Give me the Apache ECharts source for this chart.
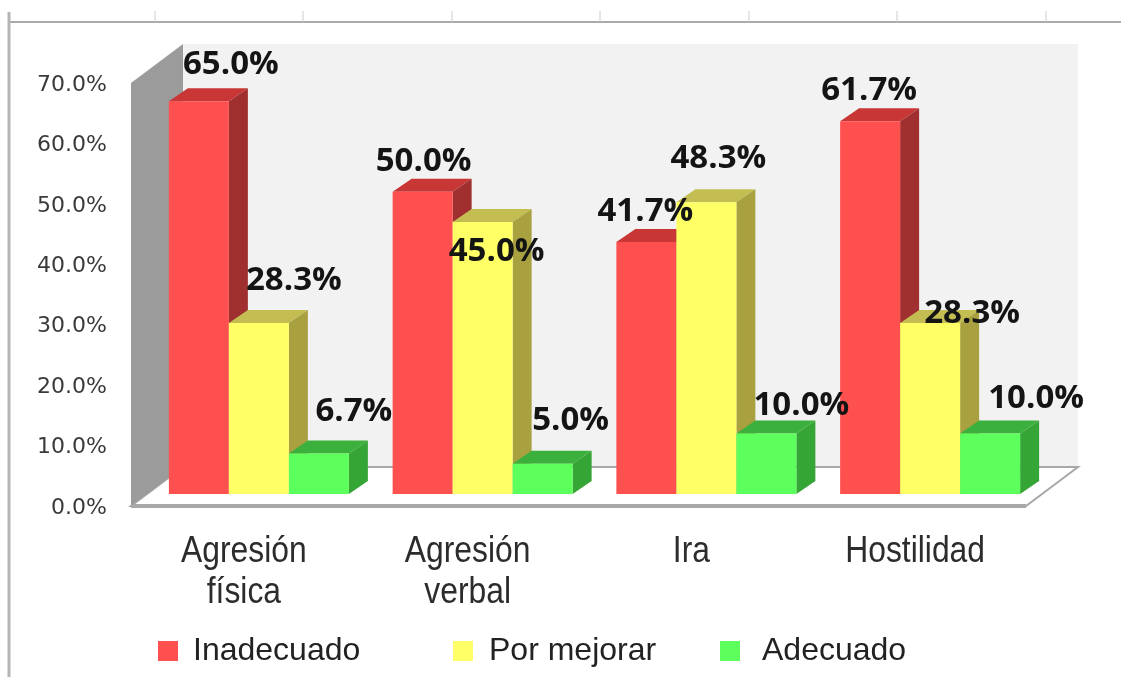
<!DOCTYPE html>
<html>
<head>
<meta charset="utf-8">
<style>
  html, body { margin: 0; padding: 0; background: #fff; }
  #chart { width: 1121px; height: 677px; }
</style>
<script src="https://cdn.jsdelivr.net/npm/echarts@6/dist/echarts.min.js"></script>
</head>
<body>
<div id="chart"></div>
<script>
const categories = ["Agresión\nfísica", "Agresión\nverbal", "Ira", "Hostilidad"];
const yTicksMax = 70;
const inadecuado = [65.0, 50.0, 41.7, 61.7];
const porMejorar = [28.3, 45.0, 48.3, 28.3];
const adecuado = [6.7, 5.0, 10.0, 10.0];

// how far each value label sits from the top centre of its bar
const offsetsRed = [[32, -39], [1, -32], [-1, -32], [-1, -33]];
const offsetsYellow = [[35, -44], [14, 28], [12, -46], [42, -11]];
const offsetsGreen = [[35, -44], [28, -45], [35, -30], [46, -37]];

const barWidth = 60;
const depth = [19, -13];     // bar depth
const wallDepth = [52, -39]; // wall depth
const barShift = [16, -12];  // bars stand a bit back from the floor edge

const chart = echarts.init(document.getElementById("chart"));

function poly(points, fill) {
  return { type: "polygon", shape: { points }, style: { fill } };
}

// 3d column: front face, top face, side face
function barSeries(name, values, slot, front, top, side) {
  return {
    name,
    type: "custom",
    coordinateSystem: "cartesian2d",
    itemStyle: { color: front },
    z: 3,
    data: values.map((v, i) => [i, v]),
    renderItem(params, api) {
      const p = api.coord([api.value(0), api.value(1)]);
      const base = api.coord([api.value(0), 0]);
      const x0 = p[0] + barShift[0] + (slot - 1) * barWidth - barWidth / 2;
      const x1 = x0 + barWidth;
      const y0 = p[1] + barShift[1];
      const y1 = base[1] + barShift[1];
      const dx = depth[0], dy = depth[1];
      return {
        type: "group",
        children: [
          poly([[x0, y0], [x0 + dx, y0 + dy], [x1 + dx, y0 + dy], [x1, y0]], top),
          poly([[x1, y0], [x1 + dx, y0 + dy], [x1 + dx, y1 + dy], [x1, y1]], side),
          poly([[x0, y0], [x1, y0], [x1, y1], [x0, y1]], front)
        ]
      };
    }
  };
}

function labelSeries(values, slot, offsets) {
  return {
    type: "custom",
    coordinateSystem: "cartesian2d",
    z: 10,
    silent: true,
    data: values.map((v, i) => [i, v]),
    renderItem(params, api) {
      const i = api.value(0);
      const p = api.coord([i, api.value(1)]);
      return {
        type: "text",
        x: p[0] + barShift[0] + (slot - 1) * barWidth + offsets[i][0],
        y: p[1] + barShift[1] + offsets[i][1] + 2,
        style: {
          text: api.value(1).toFixed(1) + "%",
          fill: "#141414",
          font: 'bold 33px "Open Sans"',
          align: "center",
          verticalAlign: "middle"
        }
      };
    }
  };
}

// category names are squeezed sideways in the picture, so they are drawn here
const categorySeries = {
  type: "custom",
  coordinateSystem: "cartesian2d",
  z: 10,
  silent: true,
  data: categories.map((c, i) => [i, 0]),
  renderItem(params, api) {
    const p = api.coord([api.value(0), 0]);
    return {
      type: "text",
      x: p[0] + 1,
      y: p[1] + 25,
      scaleX: 0.86,
      style: {
        text: categories[api.value(0)],
        fill: "#2c2c2c",
        font: '37px "Liberation Sans"',
        lineHeight: 41,
        align: "center",
        verticalAlign: "top"
      }
    };
  }
};

// grey side wall, back wall and floor
const wallsSeries = {
  type: "custom",
  coordinateSystem: "cartesian2d",
  z: 1,
  silent: true,
  data: [[0, 0]],
  renderItem(params) {
    const r = params.coordSys;
    const l = r.x, t = r.y, b = r.y + r.height, e = r.x + r.width;
    const dx = wallDepth[0], dy = wallDepth[1];
    return {
      type: "group",
      children: [
        poly([[l + dx, t + dy], [e + dx, t + dy], [e + dx, b + dy], [l + dx, b + dy]], "#f2f2f2"),
        {
          type: "polygon",
          shape: { points: [[l + dx, b + dy], [e + dx, b + dy], [e, b], [l, b]] },
          style: { fill: "#fff", stroke: "#a8a8a8", lineWidth: 2 }
        },
        { type: "line", shape: { x1: l, y1: b, x2: e, y2: b }, style: { stroke: "#a8a8a8", lineWidth: 4 } },
        poly([[l, t], [l + dx, t + dy], [l + dx, b + dy], [l, b]], "#9b9b9b")
      ]
    };
  }
};

// the sheet behind the chart: frame lines and column marks
const sheetTicks = [155, 303, 452, 600, 749, 897, 1046];
const frame = [
  { type: "line", shape: { x1: 9, y1: 22, x2: 1121, y2: 22 }, style: { stroke: "#aaa", lineWidth: 2 } },
  { type: "line", shape: { x1: 9, y1: 12, x2: 9, y2: 677 }, style: { stroke: "#b5b5b5", lineWidth: 3 } }
].concat(sheetTicks.map(x => ({
  type: "line",
  shape: { x1: x, y1: 11, x2: x, y2: 22 },
  style: { stroke: "#ccc", lineWidth: 1 }
})));

function legendItem(name, left, gap) {
  return {
    data: [name],
    left,
    top: 635,
    padding: 0,
    icon: "rect",
    itemWidth: 20,
    itemHeight: 20,
    selectedMode: false,
    textStyle: {
      fontFamily: "Liberation Sans",
      fontSize: 32,
      color: "#222",
      padding: [0, 0, 0, gap]
    }
  };
}

chart.setOption({
  animation: false,
  backgroundColor: "#fff",
  graphic: frame,
  grid: { left: 131, top: 83, width: 895, height: 423 },
  legend: [
    legendItem("Inadecuado", 158, 10),
    legendItem("Por mejorar", 453, 11),
    legendItem("Adecuado", 720, 17)
  ],
  xAxis: {
    type: "category",
    data: categories,
    axisLine: { show: false },
    axisTick: { show: false },
    axisLabel: { show: false }
  },
  yAxis: {
    type: "value",
    min: 0,
    max: yTicksMax,
    interval: 10,
    axisLine: { show: false },
    axisTick: { show: false },
    splitLine: { show: false },
    axisLabel: {
      margin: 24,
      fontFamily: "DejaVu Sans",
      fontSize: 22,
      color: "#3a3a3a",
      verticalAlign: "top",
      lineHeight: 4,
      formatter: v => v.toFixed(1) + "%"
    }
  },
  series: [
    wallsSeries,
    barSeries("Inadecuado", inadecuado, 0, "#ff5050", "#c83636", "#a03030"),
    barSeries("Por mejorar", porMejorar, 1, "#ffff66", "#c4be52", "#a9a040"),
    barSeries("Adecuado", adecuado, 2, "#5cff5c", "#3cb03c", "#35a535"),
    labelSeries(inadecuado, 0, offsetsRed),
    labelSeries(porMejorar, 1, offsetsYellow),
    labelSeries(adecuado, 2, offsetsGreen),
    categorySeries
  ]
});
</script>
</body>
</html>
